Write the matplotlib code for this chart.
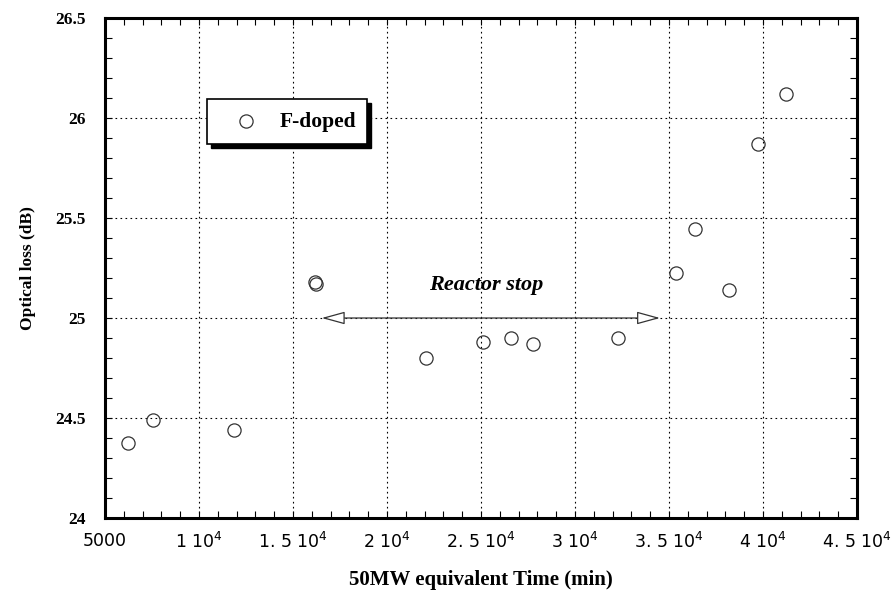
import matplotlib
matplotlib.use("Agg")
import matplotlib.pyplot as plt
from matplotlib.patches import FancyArrowPatch, Rectangle
from matplotlib.ticker import FixedLocator, MultipleLocator

# Irradiation time (50 MW equivalent, min) and optical loss (dB), F-doped fibre
time_min = [6210, 7570, 11860, 16170, 16230, 22060, 25120, 26580, 27750,
            32300, 35360, 36380, 38210, 39750, 41220]
loss_db = [24.373, 24.49, 24.44, 25.18, 25.17, 24.80, 24.878, 24.898, 24.87,
           24.898, 25.227, 25.445, 25.14, 25.87, 26.12]

x_ticks = [5000, 10000, 15000, 20000, 25000, 30000, 35000, 40000, 45000]
x_tick_labels = ["5000", "1 10$^4$", "1. 5 10$^4$", "2 10$^4$", "2. 5 10$^4$",
                 "3 10$^4$", "3. 5 10$^4$", "4 10$^4$", "4. 5 10$^4$"]
y_ticks = [24, 24.5, 25, 25.5, 26, 26.5]
y_tick_labels = ["24", "24.5", "25", "25.5", "26", "26.5"]

# Reactor stop interval, drawn as a double arrow at 25 dB
stop_start, stop_end, stop_level = 16380, 34670, 25.0

plt.rcParams["mathtext.default"] = "regular"

fig = plt.figure(figsize=(8.93, 6.07), dpi=100)
ax = fig.add_axes([105 / 893, 89 / 607, 752 / 893, 500 / 607])

ax.plot(time_min, loss_db, linestyle="none", marker="o", markersize=9.5,
        markerfacecolor="none", markeredgecolor="#333333", markeredgewidth=0.9,
        zorder=5)

ax.set_xlim(5000, 45000)
ax.set_ylim(24, 26.5)

ax.xaxis.set_major_locator(FixedLocator(x_ticks))
ax.xaxis.set_minor_locator(MultipleLocator(1000))
ax.yaxis.set_major_locator(FixedLocator(y_ticks))
ax.yaxis.set_minor_locator(MultipleLocator(0.1))
ax.set_xticklabels(x_tick_labels, family=["Liberation Sans Narrow", "DejaVu Sans"],
                   fontsize=12.5)
ax.set_yticklabels(y_tick_labels, family="Liberation Serif", fontweight="bold",
                   fontsize=12.5)

ax.tick_params(which="both", direction="in", top=True, right=True,
               length=5, width=0.8, colors="black")
ax.tick_params(axis="x", which="major", pad=10)
ax.tick_params(axis="y", which="major", pad=14)

ax.grid(True, which="major", linestyle=(0, (1.5, 3)), color="black",
        linewidth=0.8)
for sp in ax.spines.values():
    sp.set_linewidth(2.2)

ax.set_xlabel("50MW equivalent Time (min)", family="Liberation Serif",
              fontweight="bold", fontsize=15, labelpad=13)
ax.set_ylabel("Optical loss (dB)", family="Liberation Serif",
              fontweight="bold", fontsize=12.5, labelpad=14)

# Double-headed arrow with open heads
arrow = FancyArrowPatch((stop_start, stop_level), (stop_end, stop_level),
                        arrowstyle="<|-|>,head_length=0.8,head_width=0.22",
                        mutation_scale=18, facecolor="white",
                        edgecolor="#333333", linewidth=0.9, zorder=4)
ax.add_patch(arrow)
ax.text(25290, 25.165, "Reactor stop",
        family="Liberation Serif", fontweight="bold", style="italic",
        fontsize=16, ha="center", va="center")

# Legend box with drop shadow
def fig_xy(px, py):
    return px / 893, 1 - py / 607

bx0, by0 = fig_xy(207, 144)
bx1, by1 = fig_xy(367, 99)
shadow = Rectangle((bx0 + 4 / 893, by0 - 4 / 607), bx1 - bx0, by1 - by0,
                   transform=fig.transFigure, facecolor="black",
                   edgecolor="black", zorder=6)
box = Rectangle((bx0, by0), bx1 - bx0, by1 - by0, transform=fig.transFigure,
                facecolor="white", edgecolor="black", linewidth=1.2, zorder=7)
fig.add_artist(shadow)
fig.add_artist(box)
mx, my = fig_xy(246, 121)
fig.add_artist(plt.Line2D([mx], [my], marker="o", markersize=9.5,
                          markerfacecolor="none", markeredgecolor="#333333",
                          markeredgewidth=0.9, transform=fig.transFigure,
                          zorder=8))
tx, ty = fig_xy(280, 122)
fig.text(tx, ty, "F-doped", family="Liberation Serif", fontweight="bold",
         fontsize=15.5, ha="left", va="center", zorder=8)

fig.savefig("out.png", dpi=100)
